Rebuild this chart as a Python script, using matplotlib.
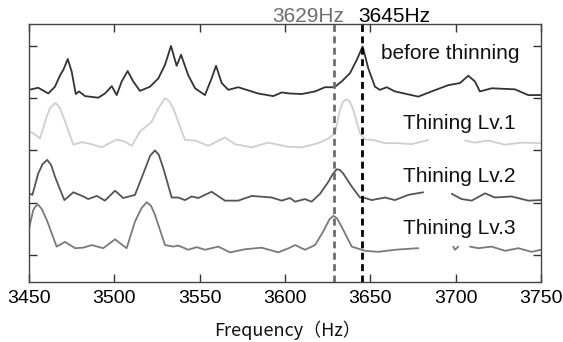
import numpy as np
import matplotlib
matplotlib.use("Agg")
import matplotlib.pyplot as plt
import matplotlib.transforms as mtrans

nan = np.nan

# ---- data (frequency in Hz, stacked normalized amplitude) ----
f_before = [3450, 3455.4, 3461.3, 3465.2, 3468.2, 3470.1, 3472.7, 3475.0, 3477.4, 3479.3,
            3482.8, 3490.6, 3494.5, 3498.5, 3501.4, 3504.3, 3507.8, 3511.1, 3515.0, 3520.9,
            3525.8, 3529.7, 3533.2, 3536.5, 3539.1, 3543.3, 3547.3, 3553.1, 3557.0, 3559.6,
            3562.9, 3566.8, 3572.6, 3584.3, 3593.1, 3598.1, 3602.9, 3609.8, 3617.6, 3623.4,
            3628.9, 3633.2, 3638.1, 3642.0, 3645.5, 3648.8, 3652.7, 3655.6, 3659.6, 3664.4,
            3678.1, 3685.9, 3695.7, 3702.5, 3707.4, 3711.3, 3714.2, 3721.1, 3734.7, 3742.5,
            3750]
a_before = [3.16, 3.20, 3.09, 3.22, 3.44, 3.54, 3.75, 3.51, 3.08, 3.13,
            3.04, 3.01, 3.09, 3.23, 3.06, 3.32, 3.52, 3.32, 3.14, 3.22,
            3.38, 3.64, 4.00, 3.62, 3.83, 3.44, 3.19, 3.06, 3.38, 3.62,
            3.29, 3.16, 3.21, 3.09, 3.04, 3.11, 3.09, 3.08, 3.13, 3.21,
            3.21, 3.32, 3.48, 3.73, 3.99, 3.57, 3.22, 3.16, 3.21, 3.13,
            3.03, 3.13, 3.25, 3.29, 3.43, 3.32, 3.13, 3.19, 3.17, 3.06,
            3.06]

f_lv1 = [3450, 3452.5, 3456.4, 3460.4, 3462.5, 3465.6, 3468.0, 3470.1, 3476.0, 3480.9,
         3486.7, 3492.6, 3501.4, 3506.2, 3510.2, 3515.0, 3521.9, 3526.0, 3529.7, 3532.0,
         3534.5, 3541.4, 3547.3, 3555.1, 3564.8, 3570.7, 3580.5, 3590.2, 3601.9, 3609.8,
         3619.5, 3625.4, 3629.3, 3632.2, 3634.0, 3636.1, 3638.0, 3640.0, 3643.9, 3646.9,
         3651.7, 3658.6, 3666.4, 3674.2, 3684.0, 3695.0, 3705.5, 3711.3, 3719.1, 3728.9,
         3738.7, 3750]
a_lv1 = [2.36, 2.33, 2.23, 2.65, 2.82, 2.91, 2.82, 2.65, 2.11, 2.16,
         2.12, 2.06, 2.21, 2.17, 2.09, 2.36, 2.55, 2.82, 3.00, 2.95,
         2.81, 2.20, 2.19, 2.09, 2.25, 2.12, 2.06, 2.15, 2.07, 2.06,
         2.14, 2.23, 2.33, 2.78, 2.93, 2.98, 2.93, 2.78, 2.33, 2.21,
         2.20, 2.14, 2.14, 2.12, 2.20, nan, 2.19, 2.15, 2.19, 2.11,
         2.15, 2.14]

f_lv2 = [3450, 3452.0, 3455.4, 3458.0, 3460.7, 3463.0, 3465.2, 3470.7, 3476.0, 3481.8,
         3484.7, 3489.7, 3494.5, 3500.4, 3505.2, 3512.1, 3517.0, 3521.0, 3523.8, 3526.0,
         3528.7, 3533.6, 3537.5, 3541.4, 3545.3, 3549.2, 3557.0, 3564.8, 3572.6, 3580.5,
         3592.2, 3598.1, 3602.9, 3605.9, 3611.7, 3615.6, 3620.5, 3625.4, 3628.0, 3630.3,
         3632.0, 3634.1, 3639.1, 3643.9, 3646.9, 3650.8, 3658.6, 3664.4, 3672.2, 3681.0,
         3690.0, 3697.7, 3703.5, 3709.4, 3717.2, 3723.0, 3732.8, 3742.5, 3750]
a_lv2 = [1.18, 1.15, 1.56, 1.74, 1.82, 1.72, 1.50, 1.05, 1.20, 1.12,
         1.07, 1.13, 1.04, 1.23, 1.09, 1.15, 1.56, 1.90, 2.00, 1.92,
         1.66, 1.10, 1.10, 1.05, 1.12, 1.09, 1.21, 1.04, 1.04, 1.13,
         1.10, 1.04, 1.09, 1.02, 1.07, 1.02, 1.17, 1.40, 1.55, 1.64,
         1.63, 1.56, 1.31, 1.10, 1.09, 1.05, 1.10, 1.05, 1.15, 1.20,
         nan, 1.17, 1.07, 1.04, 1.18, 1.10, 1.12, 1.04, 1.05]

f_lv3 = [3450, 3452.5, 3454.0, 3455.4, 3457.5, 3460.4, 3466.2, 3471.1, 3477.0, 3481.8,
         3486.7, 3493.5, 3500.4, 3507.2, 3512.1, 3516.0, 3519.0, 3521.5, 3523.8, 3529.7,
         3534.5, 3537.5, 3543.3, 3548.3, 3553.1, 3560.9, 3567.8, 3576.6, 3586.3, 3596.1,
         3602.9, 3605.9, 3611.7, 3617.6, 3622.4, 3626.0, 3628.3, 3630.5, 3633.2, 3639.1,
         3646.9, 3654.7, 3664.4, 3678.1, 3688.0, 3698.6, 3699.6, 3701.5, 3705.0, 3708.4,
         3713.3, 3721.1, 3728.9, 3736.7, 3744.5, 3750]
a_lv3 = [0.51, 0.86, 0.94, 0.96, 0.88, 0.67, 0.16, 0.25, 0.13, 0.14,
         0.19, 0.13, 0.30, 0.13, 0.64, 0.90, 1.01, 0.94, 0.77, 0.19,
         0.16, 0.18, 0.10, 0.15, 0.10, 0.16, 0.05, 0.11, 0.14, 0.05,
         0.14, 0.19, 0.10, 0.19, 0.45, 0.68, 0.75, 0.70, 0.54, 0.16,
         0.08, 0.06, 0.10, 0.13, nan, 0.16, 0.10, 0.16, nan, 0.16,
         0.13, 0.16, 0.08, 0.13, 0.06, 0.10]

series_labels = ["before thinning", "Thining Lv.1", "Thining Lv.2", "Thining Lv.3"]
series_colors = ["#333333", "#cfcfcf", "#555555", "#7a7a7a"]
label_pos = [(3656.0, 3.75), (3669.0, 2.41), (3669.0, 1.40), (3669.0, 0.40)]

marker_freqs = [3629, 3645]
marker_labels = ["3629Hz", "3645Hz"]
marker_colors = ["#6e6e6e", "#000000"]

x_ticks = [3450, 3500, 3550, 3600, 3650, 3700, 3750]
y_ticks = [0, 1, 2, 3, 4]

# ---- figure ----
fig = plt.figure(figsize=(5.63, 3.42), dpi=100)
ax = fig.add_axes([29 / 563, 1 - 282 / 342, 512 / 563, 258 / 342])

all_f = [f_before, f_lv1, f_lv2, f_lv3]
all_a = [a_before, a_lv1, a_lv2, a_lv3]
for f, a, c in zip(all_f, all_a, series_colors):
    ax.plot(f, a, color=c, lw=1.3, solid_joinstyle="round", solid_capstyle="round")

for lab, (x, y) in zip(series_labels, label_pos):
    ax.text(x, y, lab, fontsize=15, family="Liberation Sans", ha="left",
            va="baseline", color="#111111")

trans = mtrans.blended_transform_factory(ax.transData, ax.transAxes)
for fq, c in zip(marker_freqs, marker_colors):
    ax.axvline(fq, color=c, lw=2.0, ls=(0, (2.5, 1.6)), zorder=3)
ax.text(3634.5, 1.006, marker_labels[0], transform=trans, ha="right",
        va="baseline", fontsize=15, family="Liberation Sans", color=marker_colors[0])
ax.text(3642.8, 1.006, marker_labels[1], transform=trans, ha="left",
        va="baseline", fontsize=15, family="Liberation Sans", color=marker_colors[1])

ax.set_xlim(3450, 3750)
ax.set_ylim(-0.517, 4.42)
ax.set_xticks(x_ticks)
ax.set_xticklabels([str(t) for t in x_ticks], fontsize=14, family="Liberation Sans")
ax.set_yticks(y_ticks)
ax.set_yticklabels([])
ax.tick_params(direction="in", length=5.5, width=1.0, color="#333333",
               top=True, right=True, pad=6)
for s in ax.spines.values():
    s.set_color("#444444")
    s.set_linewidth(1.0)

fig.text(287 / 563, 1 - 336 / 342, "Frequency（Hz）", ha="center", va="baseline",
         fontsize=13, family=["Noto Sans CJK JP", "DejaVu Sans"], color="#111111")

fig.savefig("out.png", dpi=100)
